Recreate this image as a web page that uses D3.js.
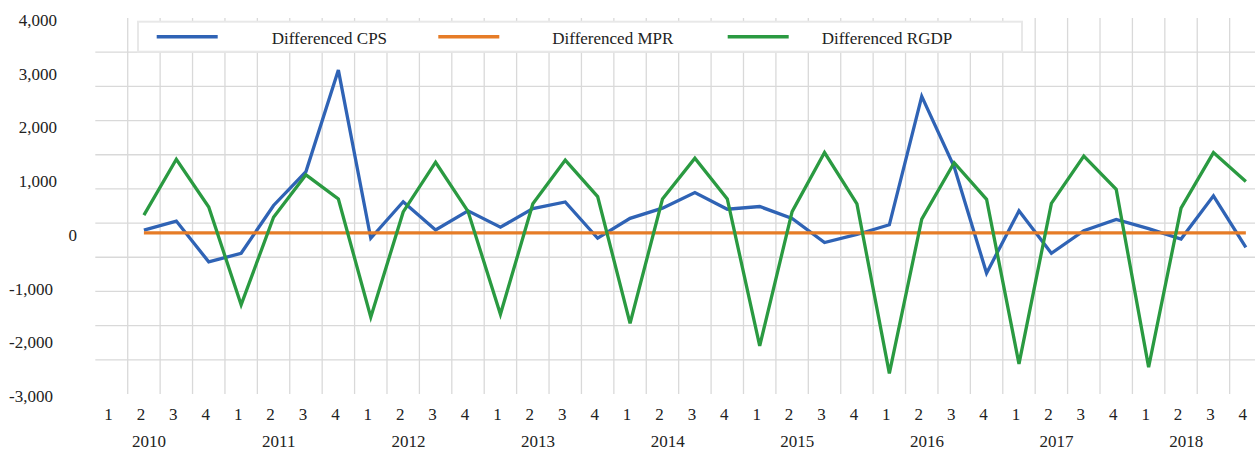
<!DOCTYPE html>
<html lang="en">
<head>
<meta charset="UTF-8">
<title>Differenced CPS, MPR and RGDP</title>
<script src="https://d3js.org/d3.v7.min.js"></script>
<style>
  body { margin: 0; background: #fff; }
  svg text { font-family: "Liberation Serif", "Times New Roman", Tinos, "DejaVu Serif", serif; fill: #222; }
</style>
</head>
<body>
<svg width="1255" height="451"></svg>
<script>
const years = ["2010", "2011", "2012", "2013", "2014", "2015", "2016", "2017", "2018"];
const quarters = ["1", "2", "3", "4"];
const yTicks = [4000, 3000, 2000, 1000, 0, -1000, -2000, -3000];

// one value per quarter, 2010 Q1 .. 2018 Q4 (first quarter has no difference)
const cps = [null, 50, 220, -540, -380, 510, 1140, 3030,
  -100, 580, 55, 410, 105, 450, 575, -100,
  270, 460, 750, 440, 490, 270, -180, -30,
  150, 2540, 1230, -750, 410, -380, 40, 250,
  80, -115, 690, -270];
const mpr = [null, 0, 0, 0, 0, 0, 0, 0,
  0, 0, 0, 0, 0, 0, 0, 0,
  0, 0, 0, 0, 0, 0, 0, 0,
  0, 0, 0, 0, 0, 0, 0, 0,
  0, 0, 0, 0];
const rgdp = [null, 330, 1370, 480, -1340, 290, 1080, 630,
  -1570, 390, 1315, 400, -1515, 540, 1355, 675,
  -1685, 630, 1390, 630, -2105, 395, 1495, 540,
  -2615, 255, 1305, 625, -2440, 550, 1430, 810,
  -2500, 460, 1495, 955];

const series = [
  { name: "Differenced CPS", values: cps, color: "#2f63b5" },
  { name: "Differenced MPR", values: mpr, color: "#e67c27" },
  { name: "Differenced RGDP", values: rgdp, color: "#2a9a41" }
];

const periods = [];
years.forEach(y => quarters.forEach(q => periods.push(y + "-" + q)));

const svg = d3.select("svg");
const plotLeft = 95.3, plotTop = 18, plotBottom = 394, bandW = 32.41;
const font = "'Liberation Serif', 'Times New Roman', 'DejaVu Serif', serif";

const x = d3.scaleBand()
  .domain(periods)
  .range([plotLeft, plotLeft + bandW * periods.length])
  .padding(0);

const y = d3.scaleLinear()
  .domain([-3000, 4000])
  .range([plotBottom, plotTop]);

// horizontal gridlines split the plot height in 11 parts
const gridY = d3.scaleLinear().domain([0, 11]).range([plotTop, plotBottom]);
svg.append("g")
  .selectAll("line")
  .data(d3.range(1, 11))
  .join("line")
  .attr("x1", plotLeft)
  .attr("x2", 1255)
  .attr("y1", d => gridY(d))
  .attr("y2", d => gridY(d))
  .attr("stroke", "#d9d9d9")
  .attr("stroke-width", 1.3);

// vertical gridlines between categories
svg.append("g")
  .selectAll("line")
  .data(periods.slice(1))
  .join("line")
  .attr("x1", d => x(d))
  .attr("x2", d => x(d))
  .attr("y1", plotTop)
  .attr("y2", plotBottom)
  .attr("stroke", "#d9d9d9")
  .attr("stroke-width", 1.3);

// y labels
svg.append("g")
  .selectAll("text")
  .data(yTicks)
  .join("text")
  .attr("x", d => d > 0 ? 57 : d < 0 ? 53 : 77)
  .attr("y", d => y(d) + 8)
  .attr("text-anchor", "end")
  .attr("font-family", font)
  .style("font-size", "17px")
  .text(d => d3.format(",")(d).replace("−", "-"));

// quarter labels
svg.append("g")
  .selectAll("text")
  .data(periods)
  .join("text")
  .attr("x", d => x(d) + x.bandwidth() / 2 - 3)
  .attr("y", 420)
  .attr("text-anchor", "middle")
  .attr("font-family", font)
  .style("font-size", "17px")
  .text(d => d.split("-")[1]);

// year labels
svg.append("g")
  .selectAll("text")
  .data(years)
  .join("text")
  .attr("x", d => x(d + "-3") - 11)
  .attr("y", 447)
  .attr("text-anchor", "middle")
  .attr("font-family", font)
  .style("font-size", "17px")
  .text(d => d);

const line = d3.line()
  .defined(d => d.v !== null)
  .x(d => x(d.p) + x.bandwidth() / 2)
  .y(d => y(d.v));

series.forEach(s => {
  svg.append("path")
    .datum(periods.map((p, i) => ({ p: p, v: s.values[i] })))
    .attr("fill", "none")
    .attr("stroke", s.color)
    .attr("stroke-width", 3.3)
    .attr("stroke-linejoin", "miter")
    .attr("d", line);
});

// legend
const legend = svg.append("g");
legend.append("rect")
  .attr("x", 138)
  .attr("y", 21.7)
  .attr("width", 884)
  .attr("height", 30)
  .attr("fill", "#fff")
  .attr("stroke", "#e8e8e8")
  .attr("stroke-width", 2);

// swatch start and text start for each entry
const legendPos = [[156.7, 271.7], [438.3, 552.3], [727.7, 821.7]];
series.forEach((s, i) => {
  legend.append("line")
    .attr("x1", legendPos[i][0])
    .attr("x2", legendPos[i][0] + 61)
    .attr("y1", 36.7)
    .attr("y2", 36.7)
    .attr("stroke", s.color)
    .attr("stroke-width", 3.5);
  legend.append("text")
    .attr("x", legendPos[i][1])
    .attr("y", 44)
    .attr("font-family", font)
    .style("font-size", "17px")
    .text(s.name);
});
</script>
</body>
</html>
